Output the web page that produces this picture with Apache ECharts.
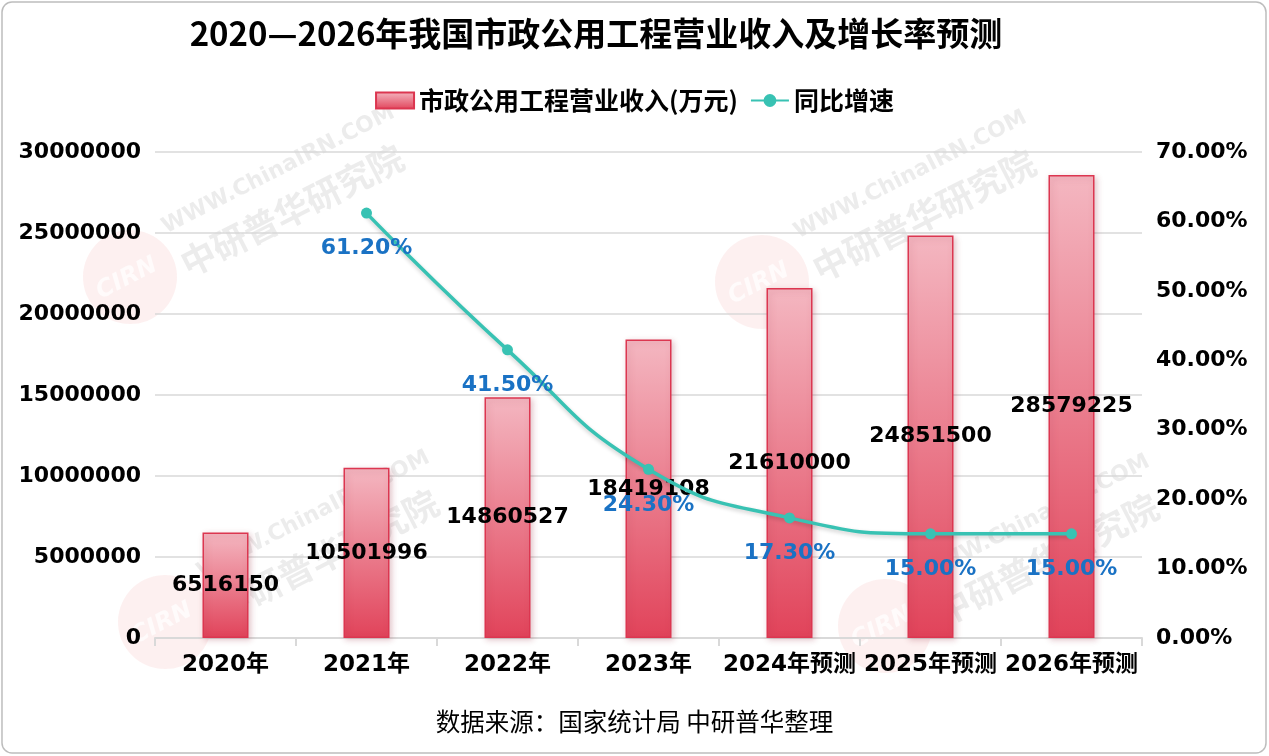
<!DOCTYPE html>
<html><head><meta charset="utf-8">
<script src="https://cdn.jsdelivr.net/npm/echarts@6/dist/echarts.min.js"></script>
<style>html,body{margin:0;padding:0;background:#fff}#c{width:1269px;height:756px}</style>
</head><body><div id="c"></div>
<script>
const categories = ['2020年','2021年','2022年','2023年','2024年预测','2025年预测','2026年预测'];
const revenue = [6516150, 10501996, 14860527, 18419108, 21610000, 24851500, 28579225];
const growth = [null, 61.2, 41.5, 24.3, 17.3, 15.0, 15.0];
const leftTicks = {min: 0, max: 30000000, interval: 5000000};
const rightTicks = {min: 0, max: 70, interval: 10};

const FONT = 'DejaVu Sans, "Noto Sans CJK SC", sans-serif';
const chart = echarts.init(document.getElementById('c'));
const barGrad = new echarts.graphic.LinearGradient(0,0,0,1,[{offset:0,color:'#f4b7c1'},{offset:1,color:'#e1435a'}]);

function watermark(cx, cy) {
  return {
    type: 'group', x: cx, y: cy, rotation: 27 * Math.PI / 180, silent: true, z: -10,
    children: [
      {type: 'circle', shape: {cx: 0, cy: 0, r: 47}, style: {fill: 'rgba(235,110,110,0.10)'}, z: -10},
      {type: 'text', x: -36, y: 0, style: {text: 'CIRN', font: 'italic bold 24px DejaVu Sans', fill: 'rgba(255,255,255,0.7)', verticalAlign: 'middle'}, z: -9},
      {type: 'text', x: 52, y: -28, style: {text: 'WWW.ChinaIRN.COM', font: 'bold 22px DejaVu Sans', fill: 'rgba(170,170,170,0.22)', verticalAlign: 'middle'}, z: -9},
      {type: 'text', x: 52, y: 14, style: {text: '中研普华研究院', font: 'bold 35px "Noto Sans CJK SC"', fill: 'rgba(170,170,170,0.22)', verticalAlign: 'middle'}, z: -9}
    ]
  };
}

chart.setOption({
  backgroundColor: '#fff',
  animation: false,
  title: {
    text: '2020—2026年我国市政公用工程营业收入及增长率预测',
    left: 591, top: 12, textAlign: 'center',
    textStyle: {fontFamily: '"Noto Sans CJK SC", sans-serif', fontWeight: 'bold', fontSize: 33, color: '#000'}
  },
  legend: {
    top: 83, left: 'center',
    itemWidth: 38, itemHeight: 16, itemGap: 12,
    textStyle: {fontFamily: '"Noto Sans CJK SC", sans-serif', fontWeight: 'bold', fontSize: 25, color: '#000'},
    data: [{name: '市政公用工程营业收入(万元)', icon: 'rect'}, {name: '同比增速'}]
  },
  grid: {left: 155, right: 127, top: 152, bottom: 118},
  xAxis: {
    type: 'category', data: categories,
    axisLine: {lineStyle: {color: '#d9d9d9', width: 2}},
    axisTick: {show: true, alignWithLabel: false, length: 8, lineStyle: {color: '#d9d9d9', width: 2}},
    axisLabel: {fontFamily: FONT, fontWeight: 'bold', fontSize: 23, color: '#000', margin: 16, interval: 0}
  },
  yAxis: [
    {type: 'value', min: leftTicks.min, max: leftTicks.max, interval: leftTicks.interval,
     axisLine: {show: false}, axisTick: {show: false},
     splitLine: {lineStyle: {color: '#d9d9d9', width: 1.5}},
     axisLabel: {fontFamily: FONT, fontWeight: 'bold', fontSize: 22, color: '#000', margin: 14, formatter: v => String(v)}},
    {type: 'value', min: rightTicks.min, max: rightTicks.max, interval: rightTicks.interval,
     axisLine: {show: false}, axisTick: {show: false}, splitLine: {show: false},
     axisLabel: {fontFamily: FONT, fontWeight: 'bold', fontSize: 22, color: '#000', margin: 14,
       formatter: v => v.toFixed(2) + '%'}}
  ],
  series: [
    {name: '市政公用工程营业收入(万元)', type: 'bar', data: revenue, barWidth: 46,
     itemStyle: {color: barGrad, borderColor: '#dc3650', borderWidth: 1.5,
       shadowColor: 'rgba(150,40,60,0.25)', shadowBlur: 6, shadowOffsetX: 2, shadowOffsetY: 2},
     label: {show: true, position: 'inside', fontFamily: FONT, fontWeight: 'bold', fontSize: 22, color: '#000'},
     z: 2},
    {name: '同比增速', type: 'line', yAxisIndex: 1, data: growth, smooth: true,
     symbol: 'circle', symbolSize: 11, connectNulls: false,
     lineStyle: {color: '#38c2b3', width: 3.5, shadowColor: 'rgba(0,0,0,0.2)', shadowBlur: 4, shadowOffsetY: 2},
     itemStyle: {color: '#38c2b3'},
     label: {show: true, position: 'bottom', distance: 19, fontFamily: FONT, fontWeight: 'bold', fontSize: 22, color: '#1a72c4',
       formatter: p => p.value.toFixed(2) + '%'},
     z: 3}
  ],
  graphic: [
    watermark(130, 277), watermark(762, 282), watermark(165, 622), watermark(885, 626),
    {type: 'rect', shape: {x: 2, y: 2, width: 1264, height: 751, r: 10}, style: {fill: 'none', stroke: '#bdbdbd', lineWidth: 1.5}, silent: true},
    {type: 'text', left: 'center', top: 709, style: {text: '数据来源：国家统计局 中研普华整理', font: '24.5px "Noto Sans CJK SC", sans-serif', fill: '#000'}}
  ]
});
</script></body></html>
